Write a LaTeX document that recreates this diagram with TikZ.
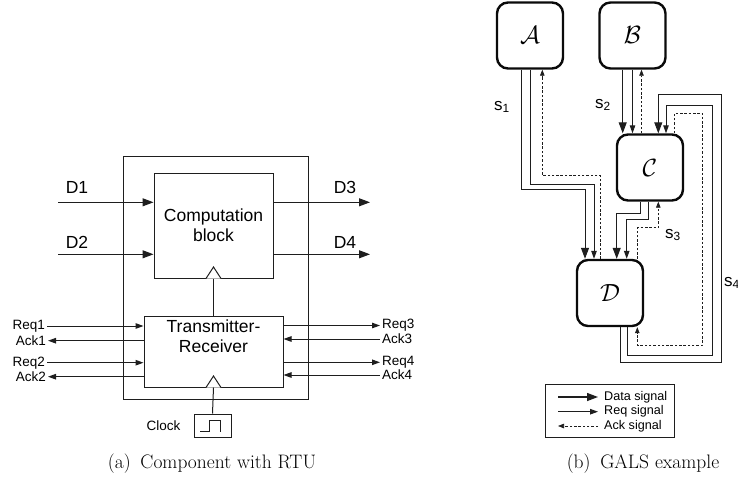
\documentclass[tikz,border=0pt]{standalone}
\usepackage{fontspec}
\newfontfamily\arialfont{Liberation Sans}
\usepackage{tikz}
\usetikzlibrary{arrows.meta, positioning, calc}
\usepackage{xcolor}
\definecolor{WireLine}{RGB}{30,30,30}
\definecolor{BoxLine} {RGB}{10,10,10}
\tikzset{
  % plain block of the RTU figure
  blk/.style={
    rectangle, draw=WireLine, fill=white, line width=1pt,
    align=center, inner sep=0pt,
    font=\arialfont\fontsize{17.5}{20}\selectfont
  },
  % rounded component of the GALS figure
  gals/.style={
    rectangle, rounded corners=11pt,
    draw=BoxLine, fill=white, line width=2.4pt,
    minimum width=66pt, minimum height=66pt,
    font=\fontsize{27}{29}\selectfont
  },
  sig/.style={font=\arialfont\fontsize{13.5}{14}\selectfont, inner sep=1pt},
  dlbl/.style={font=\arialfont\fontsize{17.5}{18}\selectfont, inner sep=1pt},
  slbl/.style={font=\arialfont\fontsize{17}{18}\selectfont, inner sep=0pt},
  lgdtxt/.style={font=\arialfont\fontsize{12.6}{14}\selectfont, inner sep=0pt, anchor=west},
  capt/.style={font=\fontsize{19.5}{22}\selectfont},
  tri/.style={draw=WireLine, fill=white, line width=1pt},
  dat/.style={-{Triangle[length=11pt,width=8pt]}, draw=WireLine, line width=1pt},
  req/.style={-{Triangle[length=8pt,width=5.5pt]}, draw=WireLine, line width=1pt},
  ack/.style={-{Triangle[length=6pt,width=4.5pt]}, draw=WireLine, line width=0.7pt,
    dash pattern=on 2.5pt off 1.8pt}
}
\begin{document}
\begin{tikzpicture}[x=1pt, y=-1pt]
  \useasboundingbox (0,0) rectangle (738,484);

  %% ── (a) Component with RTU ───────────────────────────────────────────────
  \node[blk, minimum width=185pt, minimum height=243pt] (rtu) at (215.5,277.5) {};
  \node[blk, minimum width=119pt, minimum height=105pt] (cblk) at (213.5,225.5)
    {Computation\\block};
  \node[blk, minimum width=139pt, minimum height=71pt] (trx) at (213.5,351.5) {};
  \node[blk, draw=none, fill=none, below=4pt of trx.north] (trxtxt)
    {Transmitter-\\Receiver};
  \node[blk, minimum width=37pt, minimum height=23pt] (clk) at (212.5,425.5) {};
  \node[sig, left=12pt of clk] (clktxt) {Clock};

  % clock triangles and wires
  \draw[tri] ([xshift=-7.5pt]cblk.south) -- ++(7.5,-11.5) -- ++(7.5,11.5);
  \draw[tri] ([xshift=-7.5pt]trx.south) -- ++(7.5,-11.5) -- ++(7.5,11.5);
  \draw[WireLine, line width=1pt] (cblk.south) -- (trx.north);
  \draw[WireLine, line width=1pt] (trx.south) -- (clk.north);
  \draw[WireLine, line width=1pt] ([shift={(-12.5,6)}]clk.center) -- ++(9.5,0)
    -- ++(0,-11) -- ++(11,0) -- ++(0,11);

  % data in/out
  \coordinate (d1) at (58,202.3);
  \coordinate (d2) at (58,254.3);
  \coordinate (d3) at (370,202.3);
  \coordinate (d4) at (370,254.3);
  \draw[dat] (d1) -- (d1 -| cblk.west);
  \draw[dat] (d2) -- (d2 -| cblk.west);
  \draw[dat] (d3 -| cblk.east) -- (d3);
  \draw[dat] (d4 -| cblk.east) -- (d4);
  \node[dlbl] (td1) at (77,187)    {D1};
  \node[dlbl] (td2) at (77,242.7)  {D2};
  \node[dlbl] (td3) at (345,187)   {D3};
  \node[dlbl] (td4) at (345,242.7) {D4};

  % handshake signals
  \coordinate (req1) at (47,326);
  \coordinate (ack1) at (48,340.7);
  \coordinate (req2) at (47,362.7);
  \coordinate (ack2) at (48,376.7);
  \coordinate (req3) at (380,325.5);
  \coordinate (ack3) at (380,339);
  \coordinate (req4) at (380,362.3);
  \coordinate (ack4) at (380,375);
  \draw[req] (req1) -- (req1 -| trx.west);
  \draw[req] (ack1 -| trx.west) -- (ack1);
  \draw[req] (req2) -- (req2 -| trx.west);
  \draw[req] (ack2 -| trx.west) -- (ack2);
  \draw[req] (req3 -| trx.east) -- (req3);
  \draw[req] (ack3) -- (ack3 -| trx.east);
  \draw[req] (req4 -| trx.east) -- (req4);
  \draw[req] (ack4) -- (ack4 -| trx.east);
  \node[sig, anchor=east] (treq1) at ([xshift=-1pt]req1) {Req1};
  \node[sig, anchor=east] (tack1) at ([xshift=-1pt]ack1) {Ack1};
  \node[sig, anchor=east] (treq2) at ([xshift=-1pt]req2) {Req2};
  \node[sig, anchor=east] (tack2) at ([xshift=-1pt]ack2) {Ack2};
  \node[sig, anchor=west] (treq3) at ([xshift=1pt]req3) {Req3};
  \node[sig, anchor=west] (tack3) at ([xshift=1pt]ack3) {Ack3};
  \node[sig, anchor=west] (treq4) at ([xshift=1pt]req4) {Req4};
  \node[sig, anchor=west] (tack4) at ([xshift=1pt]ack4) {Ack4};

  \node[capt] (capa) at (212,464) {(a)\hspace{0.5em}Component with RTU};

  %% ── (b) GALS example ─────────────────────────────────────────────────────
  \node[gals] (A) at (530,35.5)  {$\mathcal{A}$};
  \node[gals] (B) at (632.5,35.5) {$\mathcal{B}$};
  \node[gals] (C) at (650,167.5)  {$\mathcal{C}$};
  \node[gals] (D) at (610,293)    {$\mathcal{D}$};

  % s1 : A -> D
  \draw[dat] ([xshift=-8.3pt]A.south) -- ++(0,120) -| ([xshift=-25pt]D.north);
  \draw[req] (A.south) -- ++(0,114.3) -| ([xshift=-16pt]D.north);
  \draw[ack] ([xshift=-10pt]D.north) -- ++(0,-83.3) -| ([xshift=12.3pt]A.south);

  % s2 : B -> C
  \draw[dat] ([xshift=-9.8pt]B.south) -- ([xshift=-9.8pt]B.south |- C.north);
  \draw[req] (B.south) -- (B.south |- C.north);
  \draw[ack] ([xshift=9pt]B.south |- C.north) -- ([xshift=9pt]B.south);

  % s3 : C -> D
  \draw[dat] ([xshift=-10pt]C.south) -- ++(0,11.7) -| ([xshift=6.7pt]D.north);
  \draw[req] ([xshift=-2pt]C.south) -- ++(0,18) -| ([xshift=16.7pt]D.north);
  \draw[ack] ([xshift=27.3pt]D.north) -- ++(0,-31) -| ([xshift=8.3pt]C.south);

  % s4 : D -> C
  \draw[dat] ([xshift=10.7pt]D.south) -- ++(0,35.7) -- ++(100.3,0) -- ++(0,-268.4)
    -| ([xshift=8.3pt]C.north);
  \draw[req] ([xshift=17.3pt]D.south) -- ++(0,28) -- ++(85.4,0) -- ++(0,-249.7)
    -| ([xshift=16pt]C.north);
  \draw[ack] ([xshift=24pt]C.north) -- ++(0,-19.7) -- ++(28.7,0) -- ++(0,231.4)
    -| ([xshift=27.3pt]D.south);

  \node[slbl] (s1) at (502,107) {s\textsubscript{1}};
  \node[slbl] (s2) at (603,105) {s\textsubscript{2}};
  \node[slbl] (s3) at (673,235) {s\textsubscript{3}};
  \node[slbl] (s4) at (732,283) {s\textsubscript{4}};

  % legend
  \node[blk, minimum width=129pt, minimum height=53pt] (lgd) at (609.5,410.5) {};
  \coordinate (lg1) at (558,397);
  \coordinate (lg2) at (558,411.7);
  \coordinate (lg3) at (558,426);
  \draw[dat, line width=1.3pt] (lg1) -- ++(40,0);
  \draw[req] (lg2) -- ++(40,0);
  \draw[ack] ([xshift=40pt]lg3) -- (lg3);
  \node[lgdtxt] (lt1) at (604,397)   {Data signal};
  \node[lgdtxt] (lt2) at (604,411.7) {Req signal};
  \node[lgdtxt] (lt3) at (604,426)   {Ack signal};

  \node[capt] (capb) at (643,464) {(b)\hspace{0.5em}GALS example};

\end{tikzpicture}
\end{document}
